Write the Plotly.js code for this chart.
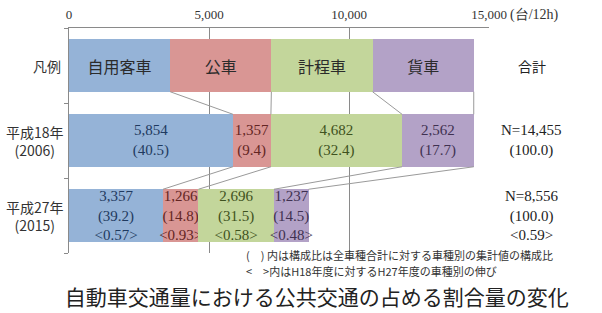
<!DOCTYPE html>
<html>
<head>
<meta charset="utf-8">
<script src="https://cdn.plot.ly/plotly-3.0.1.min.js"></script>
<style>
html,body{margin:0;padding:0;background:#fff;}
#chart{width:602px;height:313px;}
</style>
</head>
<body>
<div id="chart"></div>
<script>
// ---- data ----
const vehicleTypes = ["自用客車", "公車", "計程車", "貨車"];
const rowLabels = ["凡例", "平成18年<br>(2006)", "平成27年<br>(2015)"];
const values2006 = [5854, 1357, 4682, 2562];
const values2015 = [3357, 1266, 2696, 1237];
const share2006 = ["40.5", "9.4", "32.4", "17.7"];
const share2015 = ["39.2", "14.8", "31.5", "14.5"];
const growth = ["0.57", "0.93", "0.58", "0.48"];
const total2006 = 14455;
const total2015 = 8556;
const totalShare = "100.0";
const totalGrowth = "0.59";
const xTicks = [0, 5000, 10000, 15000];
const unitLabel = "(台/12h)";
const totalHeader = "合計";
const noteLines = ["(　) 内は構成比は全車種合計に対する車種別の集計値の構成比",
                   "&lt;　&gt;内はH18年度に対するH27年度の車種別の伸び"];
const chartTitle = "自動車交通量における公共交通の占める割合量の変化";

// ---- styles ----
const fillColors = ["#95B3D7", "#D99694", "#C3D69B", "#B3A2C7"];
const textColors = ["#1F3A60", "#632523", "#3F5220", "#3F3151"];
const serif = "Liberation Serif, Times New Roman, serif";
const sans = "Noto Sans CJK JP, Noto Sans, sans-serif";

const fmt = v => v.toLocaleString("en-US");
const legendSeg = total2006 / vehicleTypes.length;

const traces = [];
vehicleTypes.forEach((name, k) => {
  traces.push({
    type: "bar", orientation: "h",
    y: [0, 1, 2],
    x: [legendSeg, values2006[k], values2015[k]],
    width: 0.7,
    marker: {color: fillColors[k], line: {width: 0}},
    text: [name,
           fmt(values2006[k]) + "<br>(" + share2006[k] + ")",
           fmt(values2015[k]) + "<br>(" + share2015[k] + ")<br>&lt;" + growth[k] + "&gt;"],
    textposition: "inside",
    insidetextanchor: "middle",
    textangle: 0,
    constraintext: "none",
    cliponaxis: false,
    textfont: {family: [sans, serif, serif], size: [16, 15, 15], color: ["#2b2b2b", textColors[k], textColors[k]]},
    hoverinfo: "skip",
    showlegend: false
  });
});

// series lines connecting segment boundaries between rows
const rows = [
  vehicleTypes.map(() => legendSeg),
  values2006,
  values2015
];
const cums = rows.map(r => { let s = 0; return r.map(v => (s += v)); });
const lx = [], ly = [];
for (let i = 0; i < 2; i++) {
  for (let k = 0; k < vehicleTypes.length; k++) {
    lx.push(cums[i][k], cums[i + 1][k], null);
    ly.push(i + 0.35, i + 1 - 0.35, null);
  }
}
traces.push({
  type: "scatter", mode: "lines", x: lx, y: ly,
  line: {color: "#9a9a9a", width: 1},
  hoverinfo: "skip", showlegend: false, cliponaxis: false
});

const annotations = [];
// row labels
rowLabels.forEach((t, i) => {
  annotations.push({
    xref: "paper", yref: "y", x: i === 0 ? -0.052 : -0.082, y: i,
    text: t, showarrow: false, xanchor: "center", yanchor: "middle",
    font: {family: sans, size: 14, color: "#333"}
  });
});
// totals column
const totalTexts = [
  totalHeader,
  "N=" + fmt(total2006) + "<br>(" + totalShare + ")",
  "N=" + fmt(total2015) + "<br>(" + totalShare + ")<br>&lt;" + totalGrowth + "&gt;"
];
totalTexts.forEach((t, i) => {
  annotations.push({
    xref: "paper", yref: "y", x: 1.102, y: i,
    text: t, showarrow: false, xanchor: "center", yanchor: "middle",
    font: {family: i === 0 ? sans : serif, size: i === 0 ? 14 : 15, color: "#222"}
  });
});
// unit label
annotations.push({
  xref: "paper", yref: "paper", x: 1.045, y: 1.058,
  text: unitLabel, showarrow: false, xanchor: "left", yanchor: "middle",
  font: {family: serif, size: 14, color: "#333"}
});
// notes
noteLines.forEach((t, i) => {
  annotations.push({
    xref: "paper", yref: "paper", x: 0.419, y: i === 0 ? -0.008 : -0.08,
    text: t, showarrow: false, xanchor: "left", yanchor: "middle",
    align: "left", borderpad: 0,
    font: {family: sans, size: 11, color: "#333"}
  });
});

const layout = {
  width: 602, height: 313,
  margin: {l: 69, r: 113, t: 28, b: 60},
  paper_bgcolor: "#fff", plot_bgcolor: "#fff",
  barmode: "stack",
  title: {
    text: chartTitle, xref: "paper", yref: "container",
    x: 0.59, y: 0.048, xanchor: "center", yanchor: "middle",
    font: {family: sans, size: 21, color: "#222"}
  },
  xaxis: {
    side: "top", range: [0, 15000], tickvals: xTicks, tickformat: ",d",
    showline: true, linecolor: "#8a8a8a", linewidth: 1,
    showgrid: true, gridcolor: "#8a8a8a", gridwidth: 1,
    zeroline: false, ticks: "", ticklabelstandoff: 3,
    tickfont: {family: serif, size: 13, color: "#333"}
  },
  yaxis: {
    range: [2.5, -0.5], tickvals: [-0.5, 0.5, 1.5, 2.5],
    showticklabels: false, ticks: "outside", ticklen: 4, tickcolor: "#8a8a8a",
    showline: true, linecolor: "#8a8a8a", linewidth: 1,
    showgrid: false, zeroline: false
  },
  annotations: annotations,
  showlegend: false
};

Plotly.newPlot("chart", traces, layout, {displayModeBar: false, staticPlot: true});
</script>
</body>
</html>
